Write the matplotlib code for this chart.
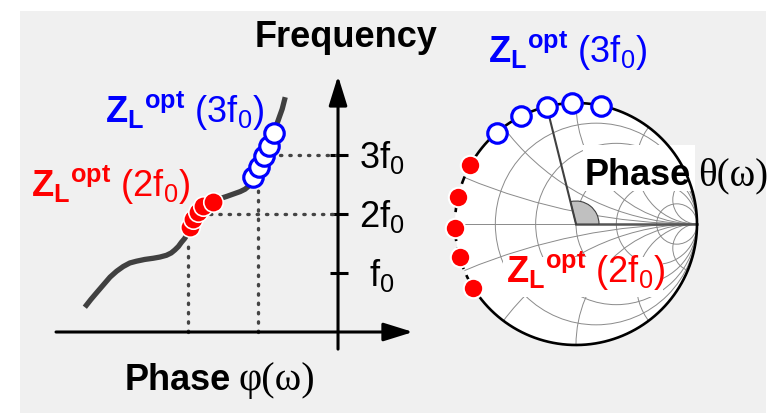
import numpy as np
import matplotlib
matplotlib.use('Agg')
import matplotlib.pyplot as plt
from matplotlib.patches import Circle, Wedge, Rectangle

plt.rcParams['font.family'] = 'Liberation Sans'
plt.rcParams['mathtext.fontset'] = 'custom'
plt.rcParams['mathtext.rm'] = 'Liberation Sans'
plt.rcParams['mathtext.bf'] = 'Liberation Sans:bold'
plt.rcParams['mathtext.it'] = 'Liberation Sans:italic'

# phase response of the matching network (phase vs. frequency / f0)
curve_phase = [-4.22, -4.12, -4.02, -3.91, -3.80, -3.69, -3.58, -3.47, -3.36, -3.22,
               -3.08, -2.97, -2.86, -2.78, -2.72, -2.66, -2.61, -2.56, -2.52,
               -2.47, -2.42, -2.33, -2.22, -2.08, -1.97, -1.85, -1.74, -1.63, -1.55,
               -1.48, -1.44, -1.40, -1.32, -1.24, -1.15, -1.07, -1.00, -0.93, -0.88]
curve_freq = [0.42, 0.55, 0.67, 0.80, 0.93, 1.03, 1.11, 1.17, 1.20, 1.23,
              1.25, 1.27, 1.30, 1.34, 1.39, 1.45, 1.52, 1.58, 1.64,
              1.78, 1.92, 2.03, 2.15, 2.20, 2.26, 2.30, 2.34, 2.38, 2.42,
              2.48, 2.54, 2.62, 2.80, 2.98, 3.16, 3.38, 3.58, 3.78, 3.98]

# optimum load points around 2f0 and 3f0
red_phase = [-2.47, -2.42, -2.33, -2.25, -2.08]
red_freq = [1.78, 1.92, 2.03, 2.14, 2.20]
blue_phase = [-1.41, -1.32, -1.24, -1.15, -1.07]
blue_freq = [2.63, 2.80, 2.98, 3.16, 3.38]

freq_ticks = [1, 2, 3]
freq_labels = ['f$_0$', '2f$_0$', '3f$_0$']

# reflection coefficient angles on the Smith chart (degrees)
red_angle = [151, 167, 182, 196, 212]
blue_angle = [131, 117, 104, 92, 78]
theta_mark = 104
smith_r = [0.2, 0.5, 1, 2, 5]
smith_x = [0.2, 0.5, 1, 2, 5]

W, H = 777, 414
FS = 26
FS_SERIF = 29
RED = '#ff0000'
BLUE = '#0000ff'
CURVE = '#404040'


def fx(px):
    return px / W


def fy(py):
    return 1 - py / H


def zl_label(harm):
    return r'$\mathbf{Z_L}^{\mathbf{opt}}$ (' + harm + 'f$_0$)'


fig = plt.figure(figsize=(W / 100, H / 100), dpi=100)
fig.patch.set_facecolor('white')
fig.add_artist(Rectangle((fx(20), 0), fx(766) - fx(20), fy(12), transform=fig.transFigure,
                         facecolor='#f0f0f0', edgecolor='none', zorder=-5))

# ---- left: phase / frequency diagram ----
ax = fig.add_axes([fx(40), fy(360), fx(430) - fx(40), fy(60) - fy(360)])
ax.set_xlim(-4.967, 1.533)
ax.set_ylim((333 - 360) / 59, (333 - 60) / 59)
ax.axis('off')
ax.patch.set_visible(False)

arrow = dict(arrowstyle='-|>,head_length=0.9,head_width=0.28', lw=2.2, color='black',
             shrinkA=0, shrinkB=0, mutation_scale=20)
ax.annotate('', xy=(1.25, 0), xytext=(-4.7, 0), arrowprops=arrow)
ax.annotate('', xy=(0, 4.34), xytext=(0, -0.29), arrowprops=arrow)
for f, lab in zip(freq_ticks, freq_labels):
    ax.plot([-0.13, 0.17], [f, f], color='black', lw=2.2, solid_capstyle='butt')
    ax.text(0.73, f - 0.2, lab, fontsize=FS, ha='center', va='baseline')

dots = dict(color='#444444', lw=2.4, linestyle=(0, (0.4, 2.4)), dash_capstyle='round')
ax.plot([-2.5, -2.5], [0, 1.58], **dots)
ax.plot([-1.34, -1.34], [0, 2.51], **dots)
ax.plot([-2.13, 0], [2, 2], **dots)
ax.plot([-0.97, 0], [3, 3], **dots)

ax.plot(curve_phase, curve_freq, color=CURVE, lw=3.8, solid_capstyle='butt',
        solid_joinstyle='round')
ax.plot(red_phase, red_freq, 'o', ms=14, mfc=RED, mec='white', mew=1.2)
ax.plot(blue_phase, blue_freq, 'o', ms=14, mfc='white', mec=BLUE, mew=2.3)

fig.text(fx(255), fy(47), 'Frequency', fontsize=FS, fontweight='bold', va='baseline')
fig.text(fx(125), fy(390), 'Phase', fontsize=FS, fontweight='bold', va='baseline')
fig.text(fx(239), fy(390), 'φ(ω)', fontsize=FS_SERIF, family='Liberation Serif',
         va='baseline')
fig.text(fx(105), fy(123), zl_label('3'), fontsize=FS, color=BLUE, va='baseline')
fig.text(fx(31), fy(197), zl_label('2'), fontsize=FS, color=RED, va='baseline')

# ---- right: Smith chart ----
sx = fig.add_axes([fx(440), fy(400), fx(777) - fx(440), fy(30) - fy(400)])
sx.set_xlim(-136 / 121, 201 / 121)
sx.set_ylim(-175 / 121, 195 / 121)
sx.axis('off')
sx.patch.set_visible(False)

disk = Circle((0, 0), 1, facecolor='white', edgecolor='none', zorder=0)
sx.add_patch(disk)
grid = dict(fill=False, edgecolor='#8a8a8a', lw=0.7, zorder=1)
for r in smith_r:
    c = Circle((r / (1 + r), 0), 1 / (1 + r), **grid)
    sx.add_patch(c)
    c.set_clip_path(disk)
for x in smith_x:
    for s in (1, -1):
        c = Circle((1, s / x), 1 / x, **grid)
        sx.add_patch(c)
        c.set_clip_path(disk)
sx.plot([-1, 1], [0, 0], color='#8a8a8a', lw=0.7, zorder=1)
sx.plot([0, 1], [0, 0], color='#555555', lw=1.8, zorder=3)

th = np.radians(theta_mark)
sx.add_patch(Wedge((0, 0), 0.19, 0, theta_mark, facecolor='#c0c0c0', edgecolor='#404040',
                   lw=0.8, zorder=3))
sx.plot([0, np.cos(th)], [0, np.sin(th)], color='#404040', lw=1.5, zorder=3)

# white label boxes over the grid
sx.add_patch(Rectangle((0.058, 0.273), 0.926, 0.380, facecolor='white', edgecolor='none',
                       zorder=4))
sx.add_patch(Rectangle((-0.603, -0.603), 1.322, 0.331, facecolor='white', edgecolor='none',
                       zorder=4))

t = np.radians(np.linspace(212, 510, 400))
sx.plot(np.cos(t), np.sin(t), color='black', lw=1.9, zorder=5)
t = np.radians(np.linspace(150, 212, 100))
sx.plot(np.cos(t), np.sin(t), color='black', lw=1.9, linestyle=(0, (3, 2.5)), zorder=5)

ra = np.radians(red_angle)
ba = np.radians(blue_angle)
sx.plot(np.cos(ra), np.sin(ra), 'o', ms=14, mfc=RED, mec='white', mew=1.5, zorder=6)
sx.plot(np.cos(ba), np.sin(ba), 'o', ms=14, mfc='white', mec=BLUE, mew=2.3, zorder=6)

fig.text(fx(488), fy(63), zl_label('3'), fontsize=FS, color=BLUE, va='baseline')
fig.text(fx(506), fy(283), zl_label('2'), fontsize=FS, color=RED, va='baseline', zorder=6)
fig.text(fx(585), fy(185), 'Phase', fontsize=FS, fontweight='bold', va='baseline', zorder=6)
fig.text(fx(698), fy(185), 'θ(ω)', fontsize=FS_SERIF - 1, family='Liberation Serif',
         va='baseline', zorder=6)

fig.savefig('out.png', dpi=100)
